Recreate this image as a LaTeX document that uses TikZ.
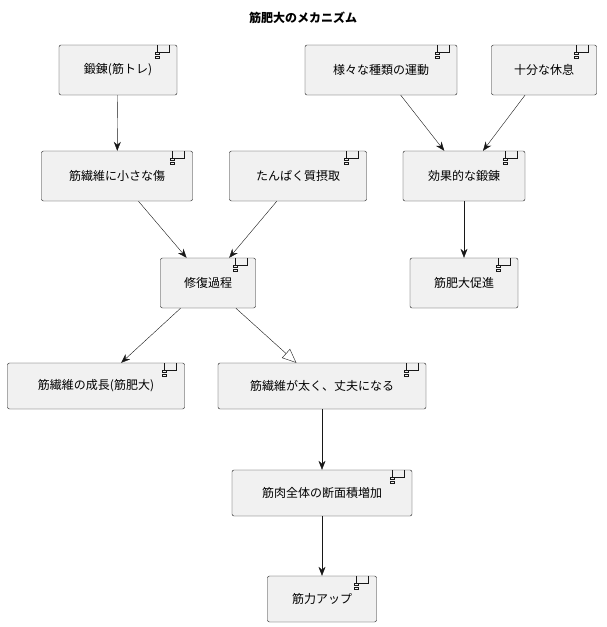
\documentclass[tikz,border=0pt]{standalone}
\usepackage{fontspec}
\setmainfont{Noto Sans CJK JP}
\usetikzlibrary{arrows.meta}
\definecolor{boxfill}{HTML}{F1F1F1}
\definecolor{boxline}{HTML}{181818}
\begin{document}
\begin{tikzpicture}[x=1pt,y=-1pt,
    comp/.style={rectangle,draw=boxline,fill=boxfill,rounded corners=2pt,minimum height=50pt,inner xsep=14pt,
        font=\fontsize{12}{14}\selectfont,
        path picture={
            \draw[boxline,fill=boxfill,sharp corners] ([xshift=-20pt,yshift=-7pt]path picture bounding box.north east) rectangle ++(12,-9);
            \draw[boxline,fill=boxfill,sharp corners] ([xshift=-22pt,yshift=-9pt]path picture bounding box.north east) rectangle ++(4,-2);
            \draw[boxline,fill=boxfill,sharp corners] ([xshift=-22pt,yshift=-13pt]path picture bounding box.north east) rectangle ++(4,-2);
        }},
    link/.style={draw=boxline,-{Stealth[length=9pt,width=7pt]}},
    growlink/.style={draw=boxline,-{Triangle[open,length=14pt,width=12pt]}}
    ]
    \useasboundingbox (0,0) rectangle (607,627);
    \node[font=\bfseries\fontsize{12}{14}\selectfont] (title) at (303,18) {筋肥大のメカニズム};
    % top row
    \node[comp,minimum width=118pt] (train) at (118,70) {鍛錬(筋トレ)};
    \node[comp,minimum width=152pt] (sports) at (381,70) {様々な種類の運動};
    \node[comp,minimum width=105pt] (rest) at (544,70) {十分な休息};
    % second row
    \node[comp,minimum width=151pt] (damage) at (117,176) {筋繊維に小さな傷};
    \node[comp,minimum width=137pt] (protein) at (298,176) {たんぱく質摂取};
    \node[comp,minimum width=122pt] (effect) at (464,176) {効果的な鍛錬};
    % third row
    \node[comp,minimum width=95pt] (repair) at (208,283) {修復過程};
    \node[comp,minimum width=108pt] (promote) at (464,283) {筋肥大促進};
    % lower part
    \node[comp,minimum width=177pt,minimum height=46pt] (growth) at (96,386) {筋繊維の成長(筋肥大)};
    \node[comp,minimum width=208pt,minimum height=46pt] (thick) at (322,386) {筋繊維が太く、丈夫になる};
    \node[comp,minimum width=180pt,minimum height=46pt] (area) at (322,493) {筋肉全体の断面積増加};
    \node[comp,minimum width=109pt,minimum height=46pt] (power) at (322,599) {筋力アップ};

    \path[link] (train) -- (damage);
    \path[link] (sports) -- (effect);
    \path[link] (rest) -- (effect);
    \path[link] (effect) -- (promote);
    \path[link] (damage) -- (repair);
    \path[link] (protein) -- (repair);
    \path[link] (repair) -- (growth);
    \path[growlink] (repair) -- (thick);
    \path[link] (thick) -- (area);
    \path[link] (area) -- (power);
\end{tikzpicture}
\end{document}
